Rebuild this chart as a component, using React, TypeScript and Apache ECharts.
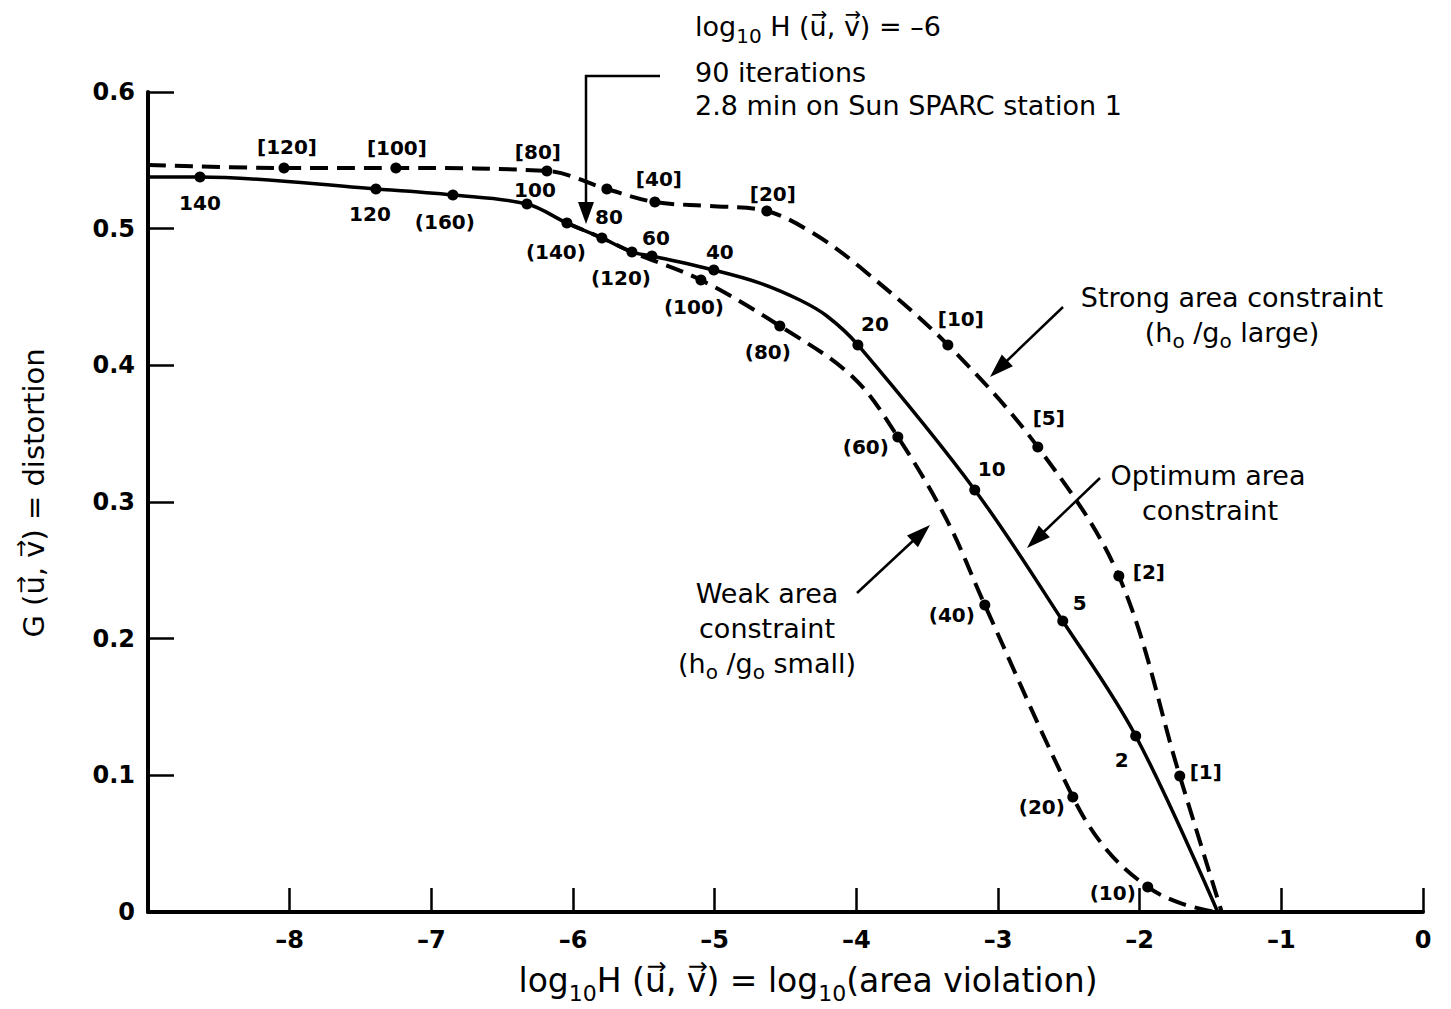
import React, { useEffect, useRef } from "react";
import * as echarts from "echarts";

const FONT = '"DejaVu Sans", "Liberation Sans", sans-serif';

// ---------- axis ticks ----------
const xTicks = [-9, -8, -7, -6, -5, -4, -3, -2, -1, 0];
const yTicks = [0, 0.1, 0.2, 0.3, 0.4, 0.5, 0.6];

// ---------- optimum area constraint (solid) ----------
const optimumLineX = [-9, -8.633, -7.391, -6.848, -6.325, -6.043, -5.796, -5.584, -5.443, -5.006, -4.681, -4.399, -4.208, -3.989, -3.164, -2.543, -2.028, -1.449];
const optimumLineY = [0.5378, 0.5378, 0.529, 0.5246, 0.518, 0.5041, 0.4932, 0.4829, 0.48, 0.4697, 0.4602, 0.4478, 0.4361, 0.4149, 0.3088, 0.2129, 0.1288, 0];
const optimumDotX = [-8.633, -7.391, -6.325, -5.796, -5.443, -5.006, -3.989, -3.164, -2.543, -2.028];
const optimumDotY = [0.5378, 0.529, 0.518, 0.4932, 0.48, 0.4697, 0.4149, 0.3088, 0.2129, 0.1288];
const optimumLabels = ["140", "120", "100", "80", "60", "40", "20", "10", "5", "2"];

// ---------- weak area constraint (dashed, parentheses) ----------
// (its first points lie on the solid curve; the dashed trace is drawn from (140) on)
const weakLineX = [-6.043, -5.796, -5.584, -5.097, -4.54, -4.025, -3.707, -3.361, -3.093, -2.472, -2.232, -1.943, -1.717, -1.47];
const weakLineY = [0.5041, 0.4932, 0.4829, 0.4624, 0.4288, 0.3915, 0.3476, 0.2868, 0.2246, 0.0841, 0.0454, 0.0183, 0.0066, 0];
const weakDotX = [-6.848, -6.043, -5.584, -5.097, -4.54, -3.707, -3.093, -2.472, -1.943];
const weakDotY = [0.5246, 0.5041, 0.4829, 0.4624, 0.4288, 0.3476, 0.2246, 0.0841, 0.0183];
const weakLabels = ["(160)", "(140)", "(120)", "(100)", "(80)", "(60)", "(40)", "(20)", "(10)"];

// ---------- strong area constraint (dashed, brackets) ----------
const strongLineX = [-9, -8.04, -7.25, -6.184, -5.761, -5.422, -5.034, -4.632, -4.307, -3.975, -3.354, -2.719, -2.147, -1.717, -1.421];
const strongLineY = [0.5466, 0.5444, 0.5444, 0.5422, 0.529, 0.5195, 0.5166, 0.5129, 0.4968, 0.4719, 0.4149, 0.3402, 0.2458, 0.0995, 0];
const strongDotX = [-8.04, -7.25, -6.184, -5.761, -5.422, -4.632, -3.354, -2.719, -2.147, -1.717];
const strongDotY = [0.5444, 0.5444, 0.5422, 0.529, 0.5195, 0.5129, 0.4149, 0.3402, 0.2458, 0.0995];
const strongLabels = ["[120]", "[100]", "[80]", "", "[40]", "[20]", "[10]", "[5]", "[2]", "[1]"];

// ---------- label placement (pixel offsets from each dot) ----------
const optimumLabelOffset = [[0, 26], [-6, 25], [8, -14], [7, -21], [4, -18], [6, -18], [17, -21], [17, -21], [17, -18], [-14, 24]];
const weakLabelOffset = [[-8, 27], [-11, 29], [-11, 26], [-7, 27], [-12, 26], [-32, 10], [-33, 10], [-31, 10], [-35, 6]];
const strongLabelOffset = [[3, -21], [1, -20], [-9, -19], [0, 0], [4, -23], [6, -17], [13, -26], [11, -29], [30, -4], [26, -4]];

type Seg = { t: string; s: number; dy?: number; vec?: boolean };

let measureCtx: CanvasRenderingContext2D | null = null;
function measure(t: string, s: number): number {
  if (!measureCtx) measureCtx = document.createElement("canvas").getContext("2d");
  if (!measureCtx) return t.length * s * 0.6;
  measureCtx.font = `${s}px "DejaVu Sans"`;
  return measureCtx.measureText(t).width;
}

function textLine(segs: Seg[], x: number, baseline: number, align: "left" | "center"): any[] {
  const widths = segs.map((g) => measure(g.t, g.s));
  const total = widths.reduce((a, b) => a + b, 0);
  let cx = align === "center" ? x - total / 2 : x;
  const out: any[] = [];
  segs.forEach((g, i) => {
    const yb = baseline + (g.dy || 0);
    const lead = g.t.length - g.t.replace(/^\s+/, "").length;
    const leadW = lead ? measure(g.t.slice(0, lead), g.s) : 0;
    const txt = g.t.trim();
    if (txt) {
      out.push({
        type: "text",
        x: cx + leadW,
        y: yb - 0.36 * g.s,
        z: 100,
        style: { text: txt, fontSize: g.s, fontFamily: FONT, fill: "#000", textAlign: "left", textVerticalAlign: "middle" },
      });
    }
    if (g.vec) {
      out.push({
        type: "text",
        x: cx + widths[i] / 2 + 1,
        y: yb - 0.8 * g.s,
        z: 100,
        style: { text: "→", fontSize: g.s * 0.72, fontFamily: FONT, fill: "#000", textAlign: "center", textVerticalAlign: "middle" },
      });
    }
    cx += widths[i];
  });
  return out;
}

function arrow(x1: number, y1: number, x2: number, y2: number, head = 24, half = 8): any[] {
  const dx = x2 - x1, dy = y2 - y1;
  const L = Math.hypot(dx, dy);
  const ux = dx / L, uy = dy / L;
  const bx = x2 - ux * head, by = y2 - uy * head;
  return [
    { type: "line", z: 100, shape: { x1, y1, x2: bx + ux * 2, y2: by + uy * 2 }, style: { stroke: "#000", lineWidth: 2.5 } },
    {
      type: "polygon",
      z: 100,
      shape: { points: [[x2, y2], [bx - uy * half, by + ux * half], [bx + uy * half, by - ux * half]] },
      style: { fill: "#000" },
    },
  ];
}

function dots(xs: number[], ys: number[], labels: string[], offsets: number[][]) {
  return xs.map((x, i) => ({
    value: [x, ys[i]],
    name: labels[i],
    label: { offset: offsets[i] },
  }));
}

function fmtX(v: number): string {
  if (v === xTicks[0]) return "";
  return v < 0 ? "\u2013" + Math.abs(v) : String(v);
}

export default function App() {
  const ref = useRef<HTMLDivElement>(null);
  useEffect(() => {
    if (!ref.current) return;
    const chart = echarts.init(ref.current, null, { renderer: "svg" });
    const A = 27;
    const sub = 20;
    const graphics: any[] = [
      // top annotation
      ...textLine(
        [
          { t: "log", s: A },
          { t: "10", s: sub, dy: 7 },
          { t: " H (", s: A },
          { t: "u", s: A, vec: true },
          { t: ", ", s: A },
          { t: "v", s: A, vec: true },
          { t: ") = \u20136", s: A },
        ],
        695, 36, "left"
      ),
      ...textLine([{ t: "90 iterations", s: A }], 695, 82, "left"),
      ...textLine([{ t: "2.8 min on Sun SPARC station 1", s: A }], 695, 115, "left"),
      { type: "polyline", z: 100, shape: { points: [[660, 76], [586, 76], [586, 206]] }, style: { stroke: "#000", lineWidth: 2.5, fill: null } },
      { type: "polygon", z: 100, shape: { points: [[578, 202], [594, 202], [586, 224]] }, style: { fill: "#000" } },
      // strong
      ...textLine([{ t: "Strong area constraint", s: A }], 1232, 307, "center"),
      ...textLine(
        [
          { t: "(h", s: A },
          { t: "o", s: sub, dy: 6 },
          { t: " /g", s: A },
          { t: "o", s: sub, dy: 6 },
          { t: " large)", s: A },
        ],
        1232, 342, "center"
      ),
      ...arrow(1063, 307, 990, 377),
      // optimum
      ...textLine([{ t: "Optimum area", s: A }], 1208, 485, "center"),
      ...textLine([{ t: "constraint", s: A }], 1210, 520, "center"),
      ...arrow(1100, 478, 1027, 548),
      // weak
      ...textLine([{ t: "Weak area", s: A }], 767, 603, "center"),
      ...textLine([{ t: "constraint", s: A }], 767, 638, "center"),
      ...textLine(
        [
          { t: "(h", s: A },
          { t: "o", s: sub, dy: 6 },
          { t: " /g", s: A },
          { t: "o", s: sub, dy: 6 },
          { t: " small)", s: A },
        ],
        767, 673, "center"
      ),
      ...arrow(857, 593, 930, 525),
      // x axis title
      ...textLine(
        [
          { t: "log", s: 33 },
          { t: "10", s: 22, dy: 9 },
          { t: "H (", s: 33 },
          { t: "u", s: 33, vec: true },
          { t: ", ", s: 33 },
          { t: "v", s: 33, vec: true },
          { t: ") = log", s: 33 },
          { t: "10", s: 22, dy: 9 },
          { t: "(area violation)", s: 33 },
        ],
        808, 992, "center"
      ),
      // y axis title (rotated)
      {
        type: "group",
        x: 44,
        y: 493,
        rotation: Math.PI / 2,
        children: textLine(
          [
            { t: "G (", s: 29 },
            { t: "u", s: 29, vec: true },
            { t: ", ", s: 29 },
            { t: "v", s: 29, vec: true },
            { t: ") = distortion", s: 29 },
          ],
          0, 0, "center"
        ),
      },
    ];

    const labelStyle = {
      show: true,
      position: "inside",
      formatter: "{b}",
      color: "#000",
      opacity: 1,
      textBorderWidth: 0,
      fontSize: 20,
      fontWeight: "bold",
      fontFamily: FONT,
    };

    const dotSeries = (data: any[]) => ({
      type: "scatter",
      data,
      symbolSize: 11,
      itemStyle: { color: "#000", opacity: 1 },
      label: labelStyle,
      z: 5,
    });

    const option: any = {
      animation: false,
      backgroundColor: "#fff",
      grid: { left: 148, right: 28, top: 92, bottom: 97, containLabel: false },
      xAxis: {
        type: "value",
        min: xTicks[0],
        max: xTicks[xTicks.length - 1],
        interval: 1,
        axisLine: { show: true, onZero: false, lineStyle: { color: "#000", width: 4 } },
        axisTick: { show: true, inside: true, length: 24, lineStyle: { color: "#000", width: 2.5 } },
        splitLine: { show: false },
        axisLabel: { margin: 16, fontSize: 24, fontWeight: "bold", fontFamily: FONT, color: "#000", formatter: fmtX },
      },
      yAxis: {
        type: "value",
        min: yTicks[0],
        max: yTicks[yTicks.length - 1],
        interval: 0.1,
        axisLine: { show: true, onZero: false, lineStyle: { color: "#000", width: 4 } },
        axisTick: { show: true, inside: true, length: 26, lineStyle: { color: "#000", width: 2.5 } },
        splitLine: { show: false },
        axisLabel: {
          margin: 13,
          fontSize: 24,
          fontWeight: "bold",
          fontFamily: FONT,
          color: "#000",
          formatter: (v: number) => (v === 0 ? "0" : v.toFixed(1)),
        },
      },
      series: [
        {
          name: "Strong area constraint",
          type: "line",
          data: strongLineX.map((x, i) => [x, strongLineY[i]]),
          showSymbol: false,
          smooth: 0.35,
          lineStyle: { color: "#000", width: 4, type: [18, 9] },
          z: 2,
        },
        {
          name: "Weak area constraint",
          type: "line",
          data: weakLineX.map((x, i) => [x, weakLineY[i]]),
          showSymbol: false,
          smooth: 0.35,
          lineStyle: { color: "#000", width: 4, type: [18, 9] },
          z: 2,
        },
        {
          name: "Optimum area constraint",
          type: "line",
          data: optimumLineX.map((x, i) => [x, optimumLineY[i]]),
          showSymbol: false,
          smooth: 0.35,
          lineStyle: { color: "#000", width: 3.5, type: "solid" },
          z: 3,
        },
        dotSeries(dots(strongDotX, strongDotY, strongLabels, strongLabelOffset)),
        dotSeries(dots(weakDotX, weakDotY, weakLabels, weakLabelOffset)),
        dotSeries(dots(optimumDotX, optimumDotY, optimumLabels, optimumLabelOffset)),
      ],
      graphic: { elements: graphics },
    };
    chart.setOption(option);
    return () => chart.dispose();
  }, []);
  return (
    <div
      ref={ref}
      style={{ position: "fixed", left: 0, top: 0, width: 1451, height: 1009, background: "#fff" }}
    />
  );
}
